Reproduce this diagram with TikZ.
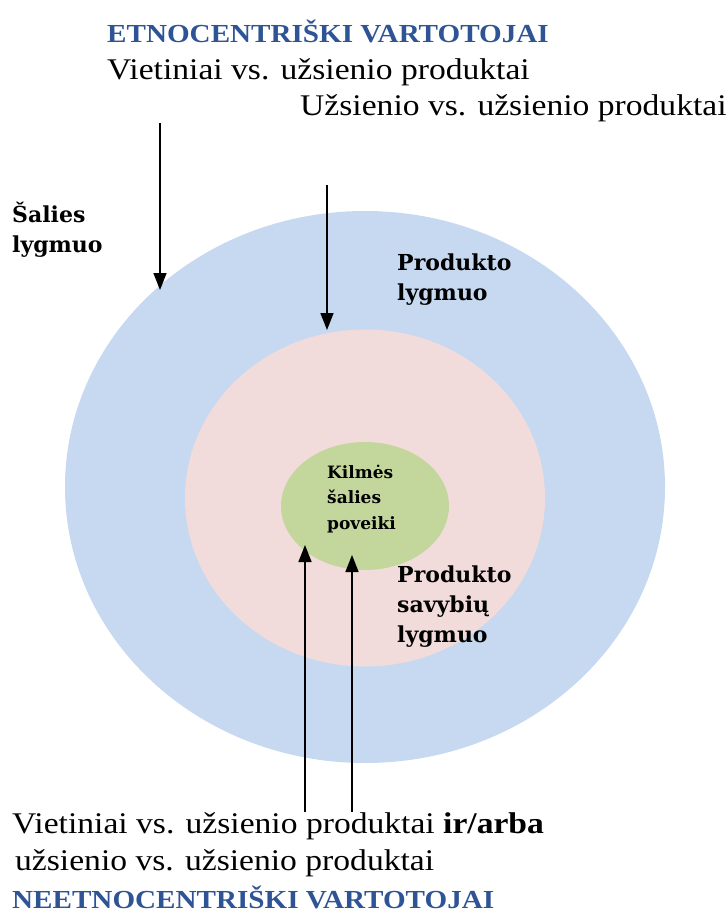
\documentclass[tikz,border=0pt]{standalone}
\usepackage{fontspec}
\setmainfont[FakeStretch=1.12]{Liberation Serif}
\newfontfamily\lygisfont{DejaVu Serif}
\usetikzlibrary{arrows.meta,shapes.geometric,positioning}
\definecolor{antraste}{RGB}{47,84,150}
\definecolor{salis}{RGB}{198,217,240}
\definecolor{produktas}{RGB}{242,220,219}
\definecolor{kilme}{RGB}{195,214,155}

\tikzset{
  zona/.style={ellipse,inner sep=0pt,draw=none},
  lygis/.style={font=\lygisfont\bfseries\fontsize{22}{30}\selectfont,align=left,anchor=base west,inner sep=0pt},
  tekstas/.style={font=\fontsize{30}{36}\selectfont,anchor=base west,inner sep=0pt},
  antr/.style={font=\bfseries\fontsize{26}{30}\selectfont,text=antraste,anchor=base west,inner sep=0pt},
  rodykle/.style={->,line width=1.6pt},
  >={Triangle[length=17pt,width=13pt]}
}

\begin{document}
\begin{tikzpicture}[x=1pt,y=-1pt]
  \useasboundingbox (0,0) rectangle (726,912);

  \node[zona,fill=salis,minimum width=600pt,minimum height=552pt] (sal) at (365,487) {};
  \node[zona,fill=produktas,minimum width=360pt,minimum height=337pt] (prod) at (365,498) {};
  \node[zona,fill=kilme,minimum width=168pt,minimum height=128pt] (kil) at (365,506) {};

  \node[antr] (etno) at (107,43) {ETNOCENTRIŠKI VARTOTOJAI};
  \node[tekstas] (viet) at (107,80) {Vietiniai vs. užsienio produktai};
  \node[tekstas] (uzs) at (300,116) {Užsienio vs. užsienio produktai};

  \node[lygis] (salLyg) at (12,252) {Šalies\\lygmuo};
  \node[lygis] (prodLyg) at (397,300) {Produkto\\lygmuo};
  \node[lygis,font=\lygisfont\bfseries\fontsize{17}{25.5}\selectfont] (kilTxt) at (327,529) {Kilmės\\šalies\\poveiki};
  \node[lygis] (savLyg) at (397,642) {Produkto\\savybių\\lygmuo};

  \node[tekstas] (viet2) at (12,833) {Vietiniai vs. užsienio produktai \textbf{ir/arba}};
  \node[tekstas] (uzs2) at (15,870) {užsienio vs. užsienio produktai};
  \node[antr] (neetno) at (12,908) {NEETNOCENTRIŠKI VARTOTOJAI};

  % rodykles
  \coordinate (a1) at (160,123);
  \coordinate (b1) at (160,290);
  \coordinate (a2) at (327,185);
  \coordinate (b2) at (327,330);
  \coordinate (a3) at (305,812);
  \coordinate (b3) at (305,545);
  \coordinate (a4) at (352,812);
  \coordinate (b4) at (352,555);
  \draw[rodykle] (a1) -- (b1);
  \draw[rodykle] (a2) -- (b2);
  \draw[rodykle] (a3) -- (b3);
  \draw[rodykle] (a4) -- (b4);
\end{tikzpicture}
\end{document}
